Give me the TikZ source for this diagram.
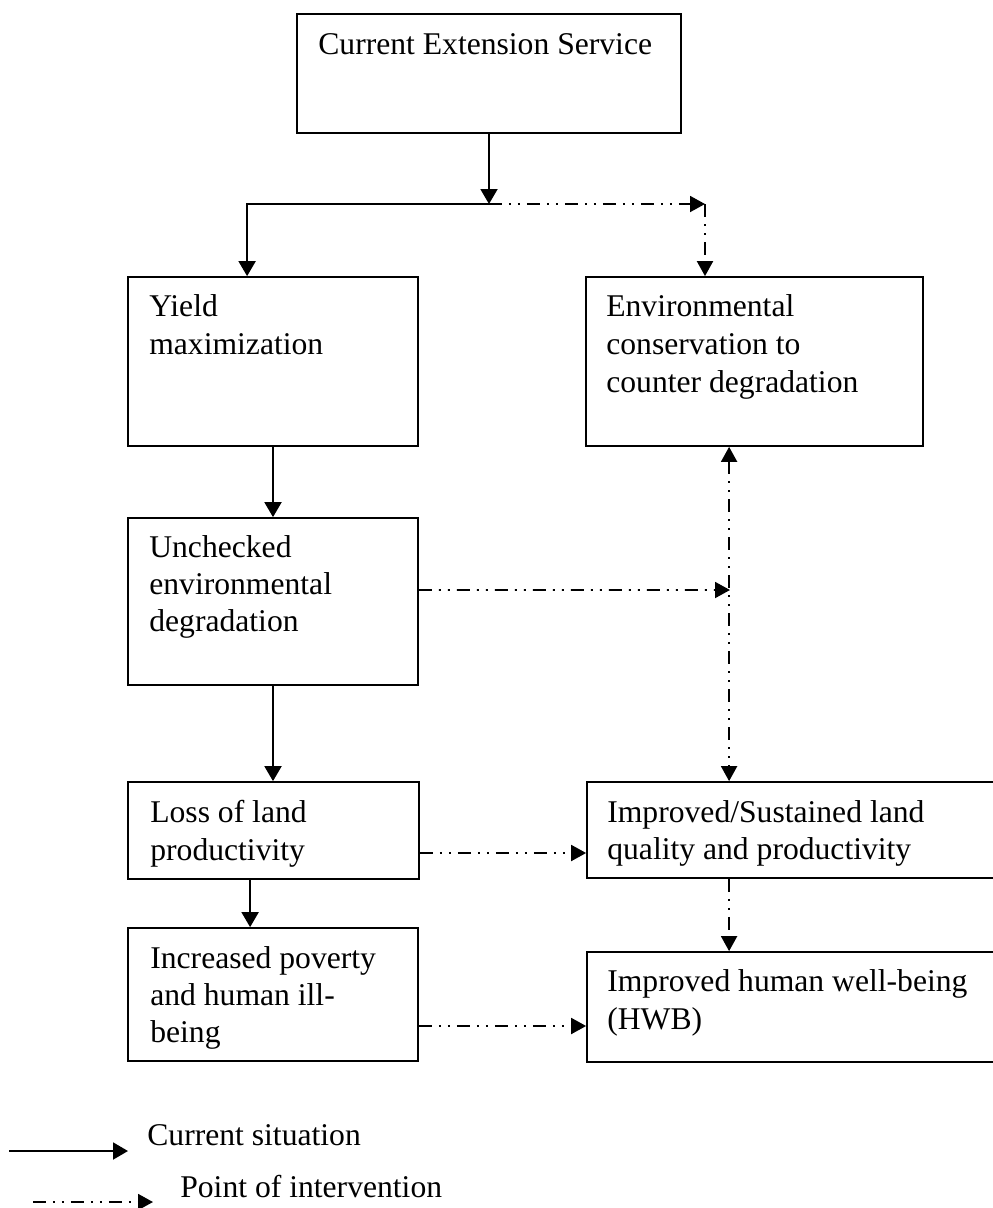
\documentclass[tikz,border=0pt]{standalone}
\usepackage{fontspec}
\setmainfont{Liberation Serif}
\usetikzlibrary{arrows.meta,fit,calc}
\begin{document}
\begin{tikzpicture}[x=0.02cm,y=-0.02cm,
  box/.style={draw,line width=1pt,inner sep=0pt,rectangle},
  txt/.style={anchor=base west,inner sep=0pt,font=\fontsize{18}{21}\selectfont},
  cur/.style={line width=1.1pt,-{Triangle[length=0.3cm,width=0.34cm]}},
  intv/.style={line width=1.1pt,dash pattern=on 0.26cm off 0.14cm on 0.04cm off 0.14cm on 0.04cm off 0.14cm,-{Triangle[length=0.3cm,width=0.32cm]}},
  intvboth/.style={intv,{Triangle[length=0.3cm,width=0.32cm]}-{Triangle[length=0.3cm,width=0.32cm]}}]
\useasboundingbox (0,0) rectangle (992,1208);
% boxes
\node[box,fit={(297,14) (681,133)}] (ces) {};
\node[box,fit={(128,277) (418,446)}] (yield) {};
\node[box,fit={(586,277) (923,446)}] (env) {};
\node[box,fit={(128,518) (418,685)}] (unch) {};
\node[box,fit={(128,782) (419,879)}] (loss) {};
\node[box,fit={(587,782) (1002,878)}] (isl) {};
\node[box,fit={(128,928) (418,1061)}] (inc) {};
\node[box,fit={(587,952) (1002,1062)}] (hwb) {};
% texts
\node[txt] (cesT) at (318,54) {Current Extension Service};
\node[txt] (yieldT1) at (149,316) {Yield};
\node[txt] (yieldT2) at (149,354) {maximization};
\node[txt] (envT1) at (606,316) {Environmental};
\node[txt] (envT2) at (606,354) {conservation to};
\node[txt] (envT3) at (606,392) {counter degradation};
\node[txt] (unchT1) at (149,557) {Unchecked};
\node[txt] (unchT2) at (149,594) {environmental};
\node[txt] (unchT3) at (149,631) {degradation};
\node[txt] (lossT1) at (150,822) {Loss of land};
\node[txt] (lossT2) at (150,860) {productivity};
\node[txt] (islT1) at (607,822) {Improved/Sustained land};
\node[txt] (islT2) at (607,859) {quality and productivity};
\node[txt] (incT1) at (150,968) {Increased poverty};
\node[txt] (incT2) at (150,1005) {and human ill-};
\node[txt] (incT3) at (150,1042) {being};
\node[txt] (hwbT1) at (607,991) {Improved human well-being};
\node[txt] (hwbT2) at (607,1029) {(HWB)};
% junctions
\coordinate (j) at (489,204);
\coordinate (k) at (705,204);
\coordinate (m) at (730,590);
% connectors
\draw[cur] (ces.south) -- (j);
\draw[cur] (j) -| ([xshift=2.4cm]yield.north west);
\draw[intv] (j) -- (k);
\draw[intv] (k) -- (k |- env.north);
\draw[cur] (yield.south) -- (unch.north);
\draw[cur] (unch.south) -- (unch.south |- loss.north);
\draw[cur] ([xshift=2.46cm]loss.south west) -- ([xshift=2.46cm]inc.north west);
\draw[intv] ([yshift=0.23cm]unch.east) -- (m);
\draw[intvboth] ([xshift=2.88cm]env.south west) -- ([xshift=2.86cm]isl.north west);
\draw[intv] ([yshift=-0.45cm]loss.east) -- ([yshift=-0.45cm]loss.east -| isl.west);
\draw[intv] ([xshift=2.86cm]isl.south west) -- ([xshift=2.86cm]hwb.north west);
\draw[intv] ([yshift=-0.63cm]inc.east) -- ([yshift=-0.63cm]inc.east -| hwb.west);
% legend
\coordinate (l1a) at (9,1151);
\coordinate (l1b) at (128,1151);
\coordinate (l2a) at (33,1202);
\coordinate (l2b) at (153,1202);
\draw[cur] (l1a) -- (l1b);
\draw[intv] (l2a) -- (l2b);
\node[txt] (leg1) at (147,1145) {Current situation};
\node[txt] (leg2) at (180,1197) {Point of intervention};
\end{tikzpicture}
\end{document}
